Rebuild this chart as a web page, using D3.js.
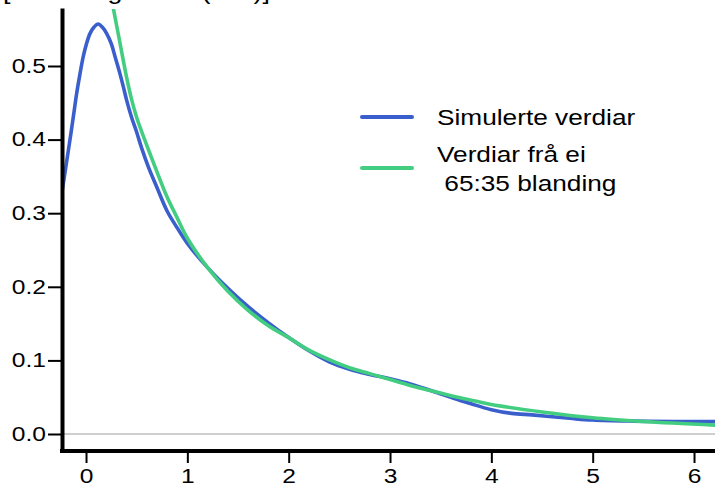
<!DOCTYPE html>
<html>
<head>
<meta charset="utf-8">
<script src="https://cdn.jsdelivr.net/npm/d3@7"></script>
<style>
  html, body { margin: 0; padding: 0; background: #ffffff; }
  svg { display: block; font-family: "Liberation Sans", Arial, Helvetica, sans-serif; }
</style>
</head>
<body>
<svg id="chart" width="715" height="493"></svg>
<script>
// ---- data ----
const titleText = "[Fordeling av tid (min)]";
const xTicks = [0, 1, 2, 3, 4, 5, 6];
const yTicks = [0.0, 0.1, 0.2, 0.3, 0.4, 0.5];
const seriesNames = ["Simulerte verdiar", "Verdiar frå ei", " 65:35 blanding"];

const simX = [-0.237, -0.2, -0.158, -0.12, -0.092, -0.06, -0.027, 0.0, 0.039, 0.08, 0.12, 0.16, 0.204, 0.25, 0.286, 0.33, 0.368, 0.40, 0.45, 0.5, 0.55, 0.615, 0.7, 0.8, 0.9, 1.0, 1.2, 1.4, 1.6, 1.8, 2.0, 2.2, 2.4, 2.6, 2.8, 3.0, 3.2, 3.4, 3.6, 3.8, 4.0, 4.2, 4.4, 4.6, 4.8, 5.0, 5.4, 5.8, 6.21];
const simY = [0.329, 0.362, 0.400, 0.436, 0.463, 0.489, 0.513, 0.528, 0.544, 0.553, 0.557, 0.553, 0.544, 0.530, 0.513, 0.492, 0.472, 0.454, 0.430, 0.410, 0.388, 0.363, 0.335, 0.303, 0.280, 0.259, 0.226, 0.198, 0.173, 0.151, 0.131, 0.113, 0.098, 0.088, 0.081, 0.075, 0.068, 0.059, 0.050, 0.041, 0.033, 0.028, 0.026, 0.0235, 0.021, 0.019, 0.0175, 0.0168, 0.0168];

const mixX = [0.15, 0.2, 0.27, 0.33, 0.4, 0.451, 0.5, 0.6, 0.681, 0.8, 0.895, 1.0, 1.2, 1.4, 1.6, 1.8, 2.0, 2.2, 2.4, 2.6, 2.8, 3.0, 3.2, 3.4, 3.6, 3.8, 4.0, 4.5, 5.0, 5.5, 6.21];
const mixY = [0.665, 0.630, 0.578, 0.535, 0.485, 0.454, 0.430, 0.392, 0.363, 0.322, 0.295, 0.266, 0.226, 0.194, 0.168, 0.147, 0.131, 0.114, 0.101, 0.090, 0.082, 0.074, 0.066, 0.059, 0.052, 0.046, 0.040, 0.030, 0.022, 0.017, 0.012];

const colBlue = "#3a5fcd";
const colGreen = "#43cd80";

// ---- scales ----
const svg = d3.select("#chart");
const x = d3.scaleLinear().domain([-0.237, 6.207]).range([62, 715]);
const y = d3.scaleLinear().domain([-0.0231, 0.5788]).range([451, 8]);

function stretch(sel, k) {
  sel.each(function () {
    const len = this.getComputedTextLength();
    d3.select(this).attr("textLength", len * k).attr("lengthAdjust", "spacingAndGlyphs");
  });
}

// title (clipped at the top edge, as in the reference)
svg.append("text")
  .attr("x", 3).attr("y", -1)
  .attr("font-size", 22)
  .attr("fill", "#000")
  .text(titleText)
  .call(stretch, 1.22);

// zero reference line
svg.append("line")
  .attr("x1", x.range()[0] + 2).attr("x2", x.range()[1])
  .attr("y1", y(0)).attr("y2", y(0))
  .attr("stroke", "#bebebe").attr("stroke-width", 1.3);

// clip for curves
svg.append("clipPath").attr("id", "plotclip")
  .append("rect")
  .attr("x", x.range()[0]).attr("y", y.range()[1] + 1)
  .attr("width", x.range()[1] - x.range()[0])
  .attr("height", y.range()[0] - y.range()[1] - 1);

const line = d3.line()
  .x(d => x(d[0])).y(d => y(d[1]))
  .curve(d3.curveCatmullRom.alpha(0.5));

const g = svg.append("g").attr("clip-path", "url(#plotclip)");
g.append("path")
  .datum(simX.map((v, i) => [v, simY[i]]))
  .attr("d", line).attr("fill", "none")
  .attr("stroke", colBlue).attr("stroke-width", 3.6)
  .attr("stroke-linejoin", "round");
g.append("path")
  .datum(mixX.map((v, i) => [v, mixY[i]]))
  .attr("d", line).attr("fill", "none")
  .attr("stroke", colGreen).attr("stroke-width", 3.6)
  .attr("stroke-linejoin", "round");

// axes
const yAxis = d3.axisLeft(y).tickValues(yTicks).tickFormat(d3.format(".1f"))
  .tickSizeInner(14).tickSizeOuter(0).tickPadding(2);
const gy = svg.append("g").attr("transform", `translate(${x.range()[0]},0)`).call(yAxis);
gy.select(".domain").attr("stroke", "#000").attr("stroke-width", 4);
gy.selectAll(".tick line").attr("stroke", "#000").attr("stroke-width", 2);
gy.selectAll(".tick text").attr("font-size", 19.5).attr("fill", "#000")
  .attr("font-family", "Liberation Sans, Arial, sans-serif").call(stretch, 1.26);

const xAxis = d3.axisBottom(x).tickValues(xTicks).tickFormat(d3.format("d"))
  .tickSizeInner(12).tickSizeOuter(0).tickPadding(6);
const gx = svg.append("g").attr("transform", `translate(0,${y.range()[0]})`).call(xAxis);
gx.select(".domain").attr("stroke", "#000").attr("stroke-width", 4)
  .attr("d", `M${x.range()[0] - 2},0H${x.range()[1]}`);
gx.selectAll(".tick line").attr("stroke", "#000").attr("stroke-width", 2);
gx.selectAll(".tick text").attr("font-size", 19.5).attr("fill", "#000")
  .attr("font-family", "Liberation Sans, Arial, sans-serif").call(stretch, 1.26);

// legend
const lg = svg.append("g").attr("font-size", 21.5).attr("fill", "#000");
lg.append("line").attr("x1", 362).attr("x2", 412).attr("y1", 117).attr("y2", 117)
  .attr("stroke", colBlue).attr("stroke-width", 4).attr("stroke-linecap", "round");
lg.append("line").attr("x1", 362).attr("x2", 412).attr("y1", 168).attr("y2", 168)
  .attr("stroke", colGreen).attr("stroke-width", 4).attr("stroke-linecap", "round");
lg.append("text").attr("x", 437).attr("y", 125).text(seriesNames[0]).call(stretch, 1.22);
lg.append("text").attr("x", 437).attr("y", 162).text(seriesNames[1]).call(stretch, 1.22);
lg.append("text").attr("x", 437).attr("y", 191).attr("xml:space", "preserve")
  .text(seriesNames[2]).call(stretch, 1.22);
</script>
</body>
</html>
